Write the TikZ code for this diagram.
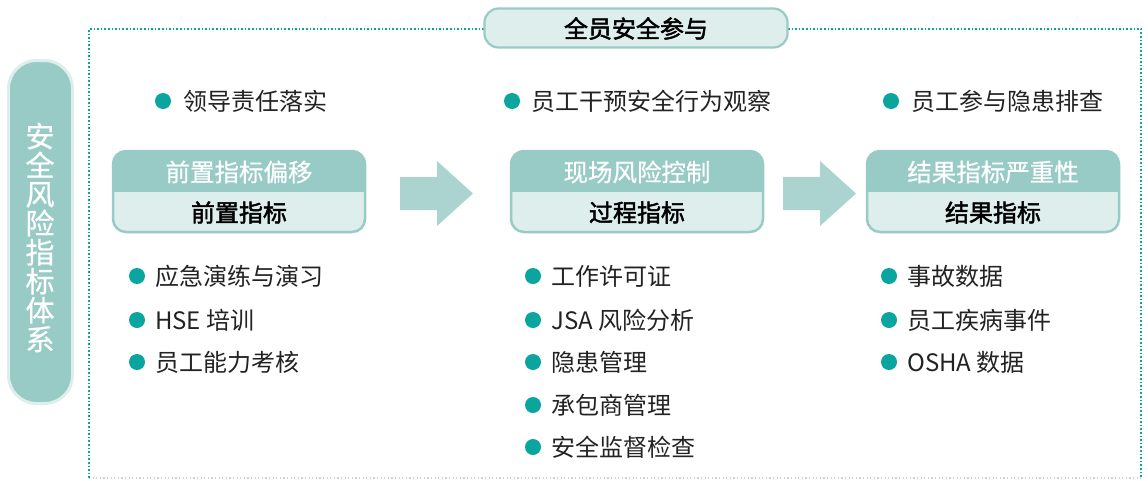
\documentclass[tikz,border=0pt]{standalone}
\usepackage{fontspec}
\setmainfont{Noto Sans CJK SC}
\newfontfamily\cjkbold{Noto Sans CJK SC}[FakeBold=2]
\newfontfamily\cjkmed{Noto Sans CJK SC}[FakeBold=0.6]
\usetikzlibrary{calc}
\definecolor{pillc}{HTML}{98CBC6}
\definecolor{pillb}{HTML}{DDEEEC}
\definecolor{lightc}{HTML}{DEEEEC}
\definecolor{arrc}{HTML}{ABD4D1}
\definecolor{dotc}{HTML}{0BA5A0}
\definecolor{txtc}{HTML}{222222}
\tikzset{
  dotline/.style={draw=dotc, line width=1.6pt, dash pattern=on 1.6pt off 2pt},
  dotgray/.style={draw=black!18, line width=1.2pt, dash pattern=on 1.2pt off 2.4pt},
  bul/.style={circle, fill=dotc, inner sep=0pt, minimum size=16pt},
  item/.style={anchor=west, inner sep=0pt, text=txtc, font=\fontsize{24}{28}\selectfont},
  hdr/.style={inner sep=0pt, text=white, font=\cjkmed\fontsize{24.5}{28}\selectfont},
  sub/.style={inner sep=0pt, text=black, font=\cjkbold\fontsize{24}{28}\selectfont},
  bigarrow/.style={fill=arrc},
}
\newcommand{\kpibox}[5]{%
  % #1 name, #2 x1, #3 x2, #4 top text, #5 bottom text
  \begin{scope}
    \clip[rounded corners=13pt] (#2,151) rectangle (#3,232);
    \fill[pillc] (#2,151) rectangle (#3,192);
    \fill[lightc] (#2,192) rectangle (#3,232);
  \end{scope}
  \node[draw=pillc, line width=2.5pt, rounded corners=13pt, inner sep=0pt,
        minimum width={#3-#2}, minimum height=81pt] (#1) at ({(#2+#3)/2},191.5) {};
  \node[hdr] (#1-top) at ({(#2+#3)/2},172) {#4};
  \node[sub] (#1-bot) at ({(#2+#3)/2},212.5) {#5};
}
\begin{document}
\begin{tikzpicture}[x=1pt,y=-1pt]
\useasboundingbox (0,0) rectangle (1148,480);
% dotted frame
\draw[dotgray] (89,478) -- (1141,478);
\draw[dotline] (89,478) -- (89,29) -- (484,29);
\draw[dotline] (788,29) -- (1141,29) -- (1141,478);
% left vertical pill
\node[draw=pillb, fill=pillc, line width=3pt, rounded corners=28pt, inner sep=0pt,
      minimum width=64pt, minimum height=343pt] (side) at (40.5,232) {};
\node[inner sep=0pt, text=white, align=center,
      font=\cjkmed\fontsize{29}{29}\selectfont] (sidetxt) at (40,237.5)
      {安\\全\\风\\险\\指\\标\\体\\系};
% top pill
\node[draw=pillc, fill=lightc, line width=2.2pt, rounded corners=14pt, inner sep=0pt,
      minimum width=303pt, minimum height=39pt] (topp) at (636,28) {};
\node[sub] (topt) at (636,28.5) {全员安全参与};
% row 1 bullets
\node[bul] (b1) at (163,101) {};
\node[item] (t1) at (183,101) {领导责任落实};
\node[bul] (b2) at (512,101) {};
\node[item] (t2) at (531,101) {员工干预安全行为观察};
\node[bul] (b3) at (891,101) {};
\node[item] (t3) at (911,101) {员工参与隐患排查};
% boxes
\kpibox{k1}{113}{365}{前置指标偏移}{前置指标}
\kpibox{k2}{511}{763}{现场风险控制}{过程指标}
\kpibox{k3}{867}{1119}{结果指标严重性}{结果指标}
% block arrows
\fill[bigarrow] (400,177) -- (437,177) -- (437,161) -- (473,193.5) -- (437,226) -- (437,210) -- (400,210) -- cycle;
\fill[bigarrow] (783,177) -- (820,177) -- (820,161) -- (856,193.5) -- (820,226) -- (820,210) -- (783,210) -- cycle;
% column 1 list
\node[bul] (c11) at (137,276) {};
\node[item] (d11) at (155,276) {应急演练与演习};
\node[bul] (c12) at (137,320) {};
\node[item] (d12) at (155,320) {HSE 培训};
\node[bul] (c13) at (137,362) {};
\node[item] (d13) at (155,362) {员工能力考核};
% column 2 list
\node[bul] (c21) at (533,276) {};
\node[item] (d21) at (551,276) {工作许可证};
\node[bul] (c22) at (533,320) {};
\node[item] (d22) at (551,320) {JSA 风险分析};
\node[bul] (c23) at (533,362) {};
\node[item] (d23) at (551,362) {隐患管理};
\node[bul] (c24) at (533,405) {};
\node[item] (d24) at (551,405) {承包商管理};
\node[bul] (c25) at (533,447) {};
\node[item] (d25) at (551,447) {安全监督检查};
% column 3 list
\node[bul] (c31) at (889,276) {};
\node[item] (d31) at (907,276) {事故数据};
\node[bul] (c32) at (889,320) {};
\node[item] (d32) at (907,320) {员工疾病事件};
\node[bul] (c33) at (889,362) {};
\node[item] (d33) at (907,362) {OSHA 数据};
\end{tikzpicture}
\end{document}
